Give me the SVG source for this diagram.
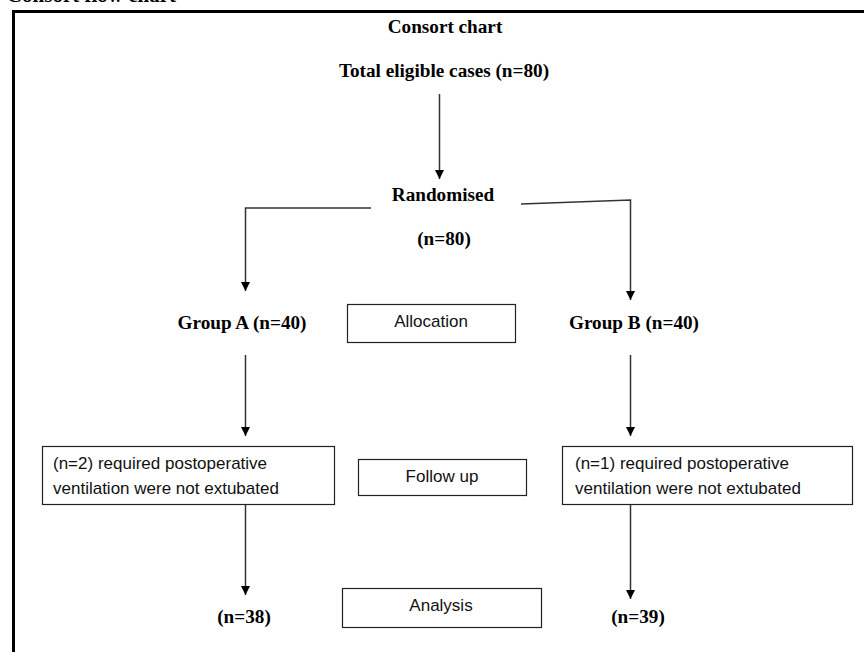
<svg xmlns="http://www.w3.org/2000/svg" width="864" height="652" viewBox="0 0 864 652">
<defs>
<style>
.b{font-family:"Liberation Serif",serif;font-weight:bold;font-size:19.2px;fill:#000;text-anchor:middle}
.s{font-family:"Liberation Sans",Arial,sans-serif;font-size:17px;fill:#111}
.c{text-anchor:middle}
.box{fill:#fff;stroke:#222;stroke-width:1.2}
.ln{fill:none;stroke:#333;stroke-width:1.5}
</style>
<marker id="a" markerWidth="10" markerHeight="10" refX="9" refY="5" orient="auto" markerUnits="userSpaceOnUse" viewBox="0 0 10 10">
<path d="M0,0.5 L9,5 L0,9.5 Z" fill="#000"/>
</marker>
</defs>
<rect width="864" height="652" fill="#fff"/>
<text x="176" y="2" class="b" style="text-anchor:end;font-size:21px">Consort flow chart</text>
<path d="M13.5,652 V11.5 H864" fill="none" stroke="#000" stroke-width="3"/>
<g id="title"><text x="445" y="33" class="b">Consort chart</text></g>
<g id="total"><text x="444" y="77" class="b">Total eligible cases (n=80)</text></g>
<g id="randomised"><text x="443" y="201" class="b">Randomised</text><text x="444" y="245" class="b">(n=80)</text></g>
<g id="groupA"><text x="242" y="329" class="b">Group A (n=40)</text></g>
<g id="allocation"><rect x="347.5" y="304.5" width="168" height="38" class="box"/><text x="431" y="327" class="s c">Allocation</text></g>
<g id="groupB"><text x="634" y="329" class="b">Group B (n=40)</text></g>
<g id="lossA"><rect x="42.5" y="446.5" width="292" height="58" class="box"/><text x="53" y="469" class="s">(n=2) required postoperative</text><text x="53" y="494" class="s">ventilation were not extubated</text></g>
<g id="followup"><rect x="358.5" y="459.5" width="168" height="36" class="box"/><text x="442" y="482" class="s c">Follow up</text></g>
<g id="lossB"><rect x="562.5" y="446.5" width="290" height="58" class="box"/><text x="575" y="469" class="s">(n=1) required postoperative</text><text x="575" y="494" class="s">ventilation were not extubated</text></g>
<g id="analysedA"><text x="244" y="623" class="b">(n=38)</text></g>
<g id="analysis"><rect x="342.5" y="588.5" width="199" height="39" class="box"/><text x="441" y="611" class="s c">Analysis</text></g>
<g id="analysedB"><text x="638" y="623" class="b">(n=39)</text></g>
<g id="connectors">
<path d="M439.5,94 V179" class="ln" marker-end="url(#a)"/>
<path d="M371,208 H245.5 V291" class="ln" marker-end="url(#a)"/>
<path d="M521,204 L630.5,200 V300" class="ln" marker-end="url(#a)"/>
<path d="M245.5,355 V436" class="ln" marker-end="url(#a)"/>
<path d="M630.5,355 V436" class="ln" marker-end="url(#a)"/>
<path d="M245.5,505 V595" class="ln" marker-end="url(#a)"/>
<path d="M630.5,505 V599" class="ln" marker-end="url(#a)"/>
</g>
</svg>
